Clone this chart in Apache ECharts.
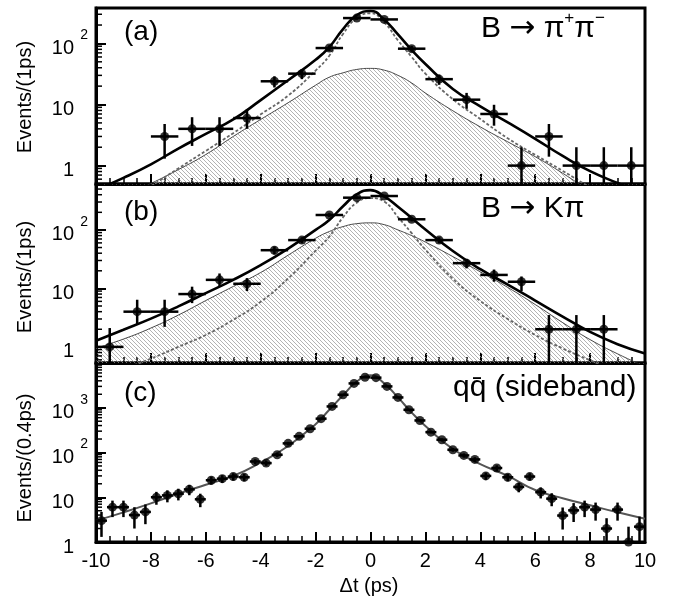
<!DOCTYPE html>
<html><head><meta charset="utf-8">
<script src="https://cdn.jsdelivr.net/npm/echarts@6/dist/echarts.min.js"></script>
<style>html,body{margin:0;padding:0;background:#fff}#c{width:674px;height:601px}</style>
</head><body><div id="c"></div>
<script>
// ---------- data ----------
const binsAB = [-9.5,-8.5,-7.5,-6.5,-5.5,-4.5,-3.5,-2.5,-1.5,-0.5,0.5,1.5,2.5,3.5,4.5,5.5,6.5,7.5,8.5,9.5];
const countsA = [null,null,3,4,4,6,24,32,84,260,247,82,26,12,7,1,3,1,1,1];
const lowA    = [null,null,1.3,2.1,2.1,4.0,19,26,75,244,231,73,21,8.5,4.5,0.3,1.4,0.3,0.3,0.3];
const highA   = [null,null,4.8,6.2,6.2,8.3,29,38,93,276,263,91,31,15.5,9.9,2.0,4.8,2.0,2.0,2.0];

const countsB = [1,4,4,8,14,12,45,67,180,356,380,152,67,27,17,13,2,2,2,null];
const lowB    = [0.3,2.4,2.2,5.6,11,9,38,59,167,337,361,140,59,22,13,9,0.3,0.3,0.3,null];
const highB   = [2.1,6.4,6.4,10.7,18,15,52,75,193,375,399,164,75,32,21,16,3.5,3.5,3.5,null];

const curveX  = [-10,-9,-8,-7,-6,-5,-4,-3,-2,-1.5,-1,-0.5,0,0.5,1,1.5,2,3,4,5,6,7,8,9,10];
const totalA  = [0.4,0.63,1.05,1.9,3.3,5.7,11.8,25,54,87,172,290,340,245,140,78,46,18,9.3,5.1,2.75,1.44,0.81,0.52,0.35];
const dashedA = [0.13,0.24,0.46,0.9,1.74,3.4,6.9,14,36,63,143,260,312,220,112,60,32,12.2,5.8,2.8,1.5,0.82,0.44,0.24,0.13];
const bkgA    = [0.2,0.32,0.51,0.86,1.52,3.0,5.7,10.7,20.7,28,33,37.5,39,36.5,30,22.5,15.4,7.9,4.3,2.45,1.4,0.75,0.38,0.2,0.11];
const totalB  = [1.27,1.96,3.04,4.93,8.3,14,25,48,100,148,254,405,480,375,250,160,102,43.5,21.3,11.6,6.2,3.3,1.8,1.11,0.77];
const dashedB = [0.3,0.42,0.63,1.0,1.6,2.9,5.9,14.8,44,77,165,292,350,305,166,88,46,14.6,6.1,3.0,1.6,0.94,0.59,0.38,0.25];
const bkgB    = [0.95,1.36,2.1,3.5,6.2,10.8,18.7,37,72,94,114,128,132,123,100,80,62,35,19.2,10.4,5.3,2.6,1.33,0.76,0.46];
const fitC    = [3.0,4.6,7.3,12,19,30,60,140,430,900,1900,3850,5300,3500,1700,780,390,120,55,30,14.5,9.5,6.6,4.6,3.3];

const binsC = [-9.8,-9.4,-9.0,-8.6,-8.2,-7.8,-7.4,-7.0,-6.6,-6.2,-5.8,-5.4,-5.0,-4.6,-4.2,-3.8,-3.4,-3.0,-2.6,-2.2,-1.8,-1.4,-1.0,-0.6,-0.2,
               0.2,0.6,1.0,1.4,1.8,2.2,2.6,3.0,3.4,3.8,4.2,4.6,5.0,5.4,5.8,6.2,6.6,7.0,7.4,7.8,8.2,8.6,9.0,9.4,9.8];
const countsC = [3,6,6,4,4.7,10,11,12,15,9,24,26,29,28,63,58,89,160,230,340,570,1070,1950,3500,4800,
                 4700,3000,1700,900,520,285,193,115,86,70,30,45,28,17,29,13,9.3,3.9,5.1,6,5.3,2,5.3,1,2.2];
const errC    = [1.7,2.4,2.4,2,2.2,3.2,3.3,3.5,3.9,3,4.9,5.1,5.4,5.3,7.9,7.6,9.4,12.6,15,18,24,33,44,59,69,
                 69,55,41,30,23,17,14,11,9.3,8.4,5.5,6.7,5.3,4.1,5.4,3.6,3,2,2.3,2.4,2.3,1.4,2.3,1.2,1.5];

const xTicks = [-10,-8,-6,-4,-2,0,2,4,6,8,10];
const yRanges = [[0.5,380],[0.53,610],[1,10000]];
const panelTags = ['(a)','(b)','(c)'];
const yNames = ['Events/(1ps)','Events/(1ps)','Events/(0.4ps)'];

// ---------- helpers ----------
const FONT = '"Liberation Sans", Arial, Helvetica, sans-serif';
const hatch = document.createElement('canvas');
hatch.width = 4; hatch.height = 4;
(function(){
  const g = hatch.getContext('2d');
  g.strokeStyle = '#9a9a9a'; g.lineWidth = 0.75;
  g.beginPath();
  g.moveTo(-1,-1); g.lineTo(5,5);
  g.moveTo(-1,3); g.lineTo(1,5);
  g.moveTo(3,-1); g.lineTo(5,1);
  g.stroke();
})();

function zip(xs, ys){ return xs.map((x,i)=>[x, ys[i]]); }
function errData(xs, vs, lo, hi){
  const out = [];
  xs.forEach((x,i)=>{ if (vs[i] != null) out.push([x, vs[i], lo[i], hi[i]]); });
  return out;
}
function ptData(xs, vs){
  const out = [];
  xs.forEach((x,i)=>{ if (vs[i] != null) out.push([x, vs[i]]); });
  return out;
}
function errRender(halfW, lw){
  return function(params, api){
    const cs = params.coordSys;
    const top = cs.y, bot = cs.y + cs.height, left = cs.x, right = cs.x + cs.width;
    const x = api.value(0), y = api.value(1), lo = api.value(2), hi = api.value(3);
    const cy = Math.max(top, Math.min(bot, api.coord([x, y])[1]));
    const xl = Math.max(left, api.coord([x - halfW, y])[0]);
    const xr = Math.min(right, api.coord([x + halfW, y])[0]);
    const cx = api.coord([x, y])[0];
    const yh = Math.max(top, Math.min(bot, api.coord([x, hi])[1]));
    const yl = Math.max(top, Math.min(bot, api.coord([x, lo])[1]));
    return {type:'group', children:[
      {type:'line', shape:{x1:cx, y1:yh, x2:cx, y2:yl}, style:{stroke:'#000', lineWidth:lw}},
      {type:'line', shape:{x1:xl, y1:cy, x2:xr, y2:cy}, style:{stroke:'#000', lineWidth:lw}}
    ]};
  };
}
function minorVals(range){
  const out = [];
  for (let e = -1; e <= 4; e++) for (let m = 2; m <= 9; m++) {
    const v = m * Math.pow(10, e);
    if (v > range[0] && v < range[1]) out.push([-10, v]);
  }
  return out;
}
function minorRender(params, api){
  const p = api.coord([-10, api.value(1)]);
  return {type:'line', shape:{x1:p[0], y1:p[1], x2:p[0]+6, y2:p[1]}, style:{stroke:'#000', lineWidth:1.5}};
}
function makeLogLabel(range){
  return function(v){
    if (v >= range[1] * 0.999) return '';
    const l = Math.log10(v), r = Math.round(l);
    if (Math.abs(l - r) > 1e-6) return '';
    if (r === 0) return '{n|1}{sp| }';
    if (r === 1) return '{n|10}{sp| }';
    return '{n|10}{sup|' + r + '}';
  };
}

// ---------- layout ----------
const grids = [
  {left:96, width:549, top:8, height:176},
  {left:96, width:549, top:184, height:179},
  {left:96, width:549, top:363, height:179}
];

const xAxes = grids.map((g,i)=>({
  type:'value', gridIndex:i, min:-10, max:10, interval:2,
  axisLine:{show:true, onZero:false, lineStyle:{color:'#000', width:3}},
  axisTick:{show:true, inside:true, length:10, lineStyle:{color:'#000', width:2}},
  minorTick:{show:true, splitNumber:4, length:6, lineStyle:{color:'#000', width:1.5}},
  splitLine:{show:false},
  axisLabel:{show:i===2, fontSize:20, color:'#000', fontFamily:FONT, margin:9,
             formatter: v => (xTicks.indexOf(v) >= 0 ? String(v) : '')}
}));

const yAxes = grids.map((g,i)=>({
  type:'log', logBase:10, gridIndex:i, min:yRanges[i][0], max:yRanges[i][1],
  axisLine:{show:true, onZero:false, lineStyle:{color:'#000', width:3}},
  axisTick:{show:true, inside:true, length:10, lineStyle:{color:'#000', width:2}},
  minorTick:{show:false},
  splitLine:{show:false},
  axisLabel:{show:true, margin:8, formatter:makeLogLabel(yRanges[i]), color:'#000',
    rich:{
      n:{fontSize:20, fontFamily:FONT, color:'#000', lineHeight:30, verticalAlign:'bottom'},
      sup:{fontSize:14, fontFamily:FONT, color:'#000', lineHeight:14, width:11, padding:[0,0,0,3], verticalAlign:'top'},
      sp:{fontSize:14, fontFamily:FONT, color:'#000', lineHeight:14, width:11, padding:[0,0,0,3], verticalAlign:'top'}
    }}
}));

const series = [];
function addCurves(i, bkg, dashed, total){
  series.push({type:'line', xAxisIndex:i, yAxisIndex:i, data:zip(curveX,bkg), smooth:0.5,
    symbol:'none', lineStyle:{color:'#333', width:0.9},
    areaStyle:{color:{image:hatch, repeat:'repeat'}, origin:'start', opacity:1}, z:2, silent:true});
  series.push({type:'line', xAxisIndex:i, yAxisIndex:i, data:zip(curveX,dashed), smooth:0.5,
    symbol:'none', lineStyle:{color:'#666', width:1.8, type:[3,2]}, z:3, silent:true});
  series.push({type:'line', xAxisIndex:i, yAxisIndex:i, data:zip(curveX,total), smooth:0.5,
    symbol:'none', lineStyle:{color:'#000', width:2.6}, z:4, silent:true});
}
addCurves(0, bkgA, dashedA, totalA);
addCurves(1, bkgB, dashedB, totalB);
series.push({type:'line', xAxisIndex:2, yAxisIndex:2, data:zip(curveX,fitC), smooth:0.5,
  symbol:'none', lineStyle:{color:'#555', width:2}, z:4, silent:true});

series.push({type:'custom', xAxisIndex:0, yAxisIndex:0, data:errData(binsAB,countsA,lowA,highA), renderItem:errRender(0.5,2.5), z:10, silent:true});
series.push({type:'custom', xAxisIndex:1, yAxisIndex:1, data:errData(binsAB,countsB,lowB,highB), renderItem:errRender(0.5,2.5), z:10, silent:true});
const cLow = countsC.map((v,i)=>Math.max(v - errC[i], 0.05));
const cHigh = countsC.map((v,i)=>v + errC[i]);
series.push({type:'custom', xAxisIndex:2, yAxisIndex:2, data:errData(binsC,countsC,cLow,cHigh), renderItem:errRender(0.2,2.5), z:10, silent:true});

series.push({type:'scatter', xAxisIndex:0, yAxisIndex:0, data:ptData(binsAB,countsA), symbol:'circle', symbolSize:9, itemStyle:{color:'#000'}, z:11, silent:true});
series.push({type:'scatter', xAxisIndex:1, yAxisIndex:1, data:ptData(binsAB,countsB), symbol:'circle', symbolSize:9, itemStyle:{color:'#000'}, z:11, silent:true});
series.push({type:'scatter', xAxisIndex:2, yAxisIndex:2, data:ptData(binsC,countsC), symbol:'circle', symbolSize:9, itemStyle:{color:'#000'}, z:11, silent:true});

[0,1,2].forEach(i=>{
  series.push({type:'custom', xAxisIndex:i, yAxisIndex:i, data:minorVals(yRanges[i]), renderItem:minorRender, z:12, silent:true});
});

const tagY = [32, 212, 393];
const graphic = [];
tagY.forEach((y,i)=>{
  graphic.push({type:'text', x:124, y:y, z:100, style:{text:panelTags[i], font:'28px '+FONT, fill:'#000', align:'left', verticalAlign:'middle'}});
});
const titleRich = {
  m:{fontSize:30, fontFamily:FONT, color:'#000', lineHeight:32, verticalAlign:'bottom'},
  a:{fontSize:31, fontFamily:'"DejaVu Sans", sans-serif', color:'#000', lineHeight:34, verticalAlign:'bottom'},
  s:{fontSize:17, fontFamily:FONT, color:'#000', lineHeight:17, verticalAlign:'top'}
};
graphic.push({type:'text', x:481, y:27, z:100, style:{
  text:'{m|B }{a|\u2192}{m| \u03c0}{s|+}{m|\u03c0}{s|\u2212}', align:'left', verticalAlign:'middle', rich:titleRich}});
graphic.push({type:'text', x:481, y:207, z:100, style:{
  text:'{m|B }{a|\u2192}{m| K\u03c0}', align:'left', verticalAlign:'middle', rich:titleRich}});
graphic.push({type:'text', x:453, y:388, z:100, style:{text:'qq\u0304 (sideband)', font:'30px '+FONT, fill:'#000', align:'left', verticalAlign:'middle'}});
const nameY = [97, 277, 458];
nameY.forEach((y,i)=>{
  graphic.push({type:'text', x:25, y:y, rotation:Math.PI/2, z:100, style:{text:yNames[i], font:'20px '+FONT, fill:'#000', align:'center', verticalAlign:'middle'}});
});
graphic.push({type:'text', x:369, y:586, z:100, style:{text:'\u0394t (ps)', font:'20px '+FONT, fill:'#000', align:'center', verticalAlign:'middle'}});

const chart = echarts.init(document.getElementById('c'), null, {renderer:'canvas'});
chart.setOption({
  animation:false,
  backgroundColor:'#fff',
  grid: grids.map(g=>Object.assign({show:true, borderColor:'#000', borderWidth:3, backgroundColor:'transparent'}, g)),
  xAxis:xAxes, yAxis:yAxes, series:series, graphic:graphic
});
</script></body></html>
